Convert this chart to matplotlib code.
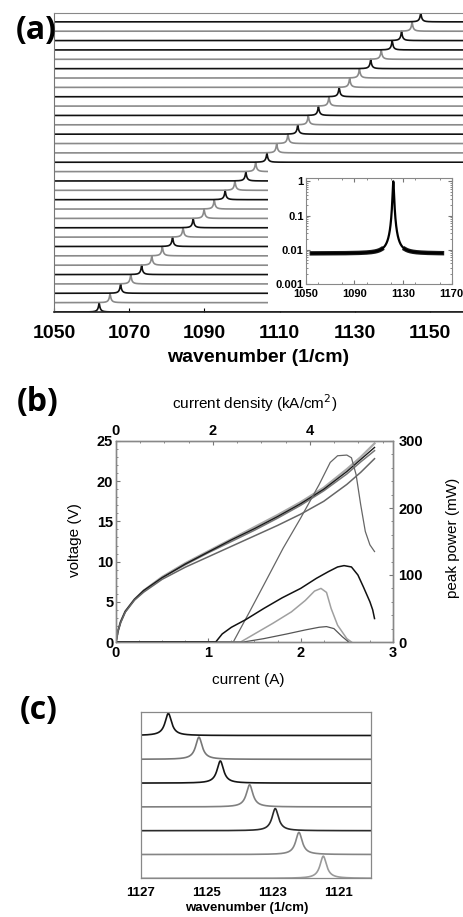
import numpy as np
import matplotlib
matplotlib.use("Agg")
import matplotlib.pyplot as plt
from matplotlib.ticker import MultipleLocator, NullFormatter, LogLocator

plt.rcParams['font.family'] = ['Liberation Sans', 'DejaVu Sans']

# ---------------- data ----------------
# (a) peak positions of stacked spectra, bottom -> top (1/cm)
peaks_a = [1062.0, 1064.9, 1067.7, 1070.4, 1073.3, 1076.0, 1078.8, 1081.5,
           1084.3, 1087.0, 1089.9, 1092.6, 1095.5, 1098.1, 1101.0, 1103.6,
           1106.6, 1109.2, 1112.2, 1114.8, 1117.6, 1120.3, 1123.1, 1125.8,
           1128.6, 1131.2, 1134.2, 1137.0, 1139.9, 1142.4, 1145.2, 1147.5]
shade_a = ['k', 'g', 'k', 'g', 'k', 'g', 'g', 'k', 'g', 'k', 'g', 'g', 'k', 'g', 'k', 'g',
           'k', 'g', 'g', 'k', 'g', 'k', 'g', 'k', 'g', 'g', 'k', 'g', 'k', 'k', 'g', 'k']
xticks_a = [1050, 1070, 1090, 1110, 1130, 1150]
floor_a = 0.008   # relative noise floor of each (log-scaled) spectrum

# (a) inset single spectrum
inset_peak = 1122.0
inset_floor = 0.0078
inset_range = [1055, 1162]
inset_xticks = [1050, 1090, 1130, 1170]
inset_yticks = [0.001, 0.01, 0.1, 1]
inset_ylabels = ['0.001', '0.01', '0.1', '1']

# (b) voltage vs current
I_v = [0, 0.02, 0.05, 0.1, 0.2, 0.3, 0.5, 0.75, 1.0, 1.25, 1.5, 1.75, 2.0, 2.25, 2.5, 2.65, 2.8]
V_1 = [0, 1.3, 2.5, 3.8, 5.3, 6.4, 8.0, 9.7, 11.2, 12.7, 14.1, 15.6, 17.2, 19.0, 21.2, 22.7, 24.2]
V_2 = [0, 1.3, 2.5, 3.8, 5.3, 6.4, 8.1, 9.8, 11.3, 12.8, 14.3, 15.8, 17.4, 19.2, 21.5, 23.0, 24.7]
V_3 = [0, 1.3, 2.5, 3.8, 5.3, 6.4, 8.0, 9.6, 11.1, 12.5, 13.9, 15.4, 17.0, 18.8, 20.9, 22.4, 23.8]
V_4 = [0, 1.3, 2.4, 3.7, 5.2, 6.2, 7.8, 9.3, 10.6, 11.9, 13.2, 14.5, 15.9, 17.5, 19.6, 21.1, 22.8]

# (b) peak power vs current
I_p1 = [0, 1.27, 1.45, 1.6, 1.81, 2.0, 2.2, 2.32, 2.4, 2.5, 2.55, 2.6, 2.65, 2.7, 2.75, 2.8]
P_1 = [0, 0, 46, 85, 140, 185, 235, 268, 278, 279, 275, 250, 205, 165, 145, 135]
I_p2 = [0, 1.08, 1.15, 1.25, 1.4, 1.6, 1.8, 2.0, 2.17, 2.3, 2.4, 2.47, 2.55, 2.62, 2.68, 2.75, 2.78, 2.8]
P_2 = [0, 0, 12, 22, 33, 50, 66, 80, 95, 105, 112, 114, 112, 100, 82, 60, 48, 35]
I_p3 = [0, 1.35, 1.5, 1.7, 1.9, 2.05, 2.15, 2.22, 2.28, 2.33, 2.4, 2.5, 2.55]
P_3 = [0, 0, 12, 28, 45, 62, 76, 80, 74, 50, 25, 5, 0]
I_p4 = [0, 1.38, 1.6, 1.85, 2.05, 2.2, 2.28, 2.36, 2.45, 2.52]
P_4 = [0, 0, 5, 12, 18, 22, 23, 20, 8, 0]
J_per_A = 1.905   # kA/cm^2 per A

# (c) peak positions top -> bottom (1/cm)
peaks_c = [1126.16, 1125.23, 1124.58, 1123.69, 1122.91, 1122.19, 1121.45]
colors_c = ['#151515', '#777777', '#151515', '#808080', '#2a2a2a', '#858585', '#9a9a9a']
xticks_c = [1127, 1125, 1123, 1121]

# ---------------- figure ----------------
W, H = 464, 917
fig = plt.figure(figsize=(W / 100, H / 100), dpi=100)


def fax(x0, y0, x1, y1):
    return [x0 / W, 1 - y1 / H, (x1 - x0) / W, (y1 - y0) / H]


def lor(x, x0, g):
    return g ** 2 / ((x - x0) ** 2 + g ** 2)


# ---- panel (a) ----
axa = fig.add_axes(fax(54, 12.5, 464, 312))
xa = np.linspace(1050, 1159, 6000)
lf = np.log10(floor_a)
for i, (p, s) in enumerate(zip(peaks_a, shade_a)):
    col = '#111111' if s == 'k' else '#8a8a8a'
    prof = (np.log10(floor_a + (1 - floor_a) * lor(xa, p, 0.07)) - lf) / (-lf)
    axa.plot(xa, i + 0.98 * prof, color=col, lw=1.2, solid_capstyle='butt')
axa.set_xlim(1050, 1159)
axa.set_ylim(0, len(peaks_a))
axa.set_yticks([])
axa.set_xticks(xticks_a)
axa.tick_params(axis='x', direction='in', length=3, width=0.8, pad=9, labelsize=14)
for lab in axa.get_xticklabels():
    lab.set_fontweight('bold')
axa.spines['left'].set_color('#777777')
axa.spines['top'].set_color('#888888')
axa.spines['left'].set_linewidth(0.8)
axa.spines['top'].set_linewidth(0.8)
axa.spines['bottom'].set_color('#222222')
axa.spines['bottom'].set_linewidth(1.2)
axa.spines['right'].set_visible(False)
fig.text(258 / W, 1 - 357 / H, 'wavenumber (1/cm)', ha='center', va='center',
         fontsize=14, fontweight='bold')
fig.text(36 / W, 1 - 30 / H, '(a)', ha='center', va='center', fontsize=23,
         fontweight='bold', family=['Open Sans', 'DejaVu Sans'])

# inset white background
bg = fig.add_axes(fax(268, 163, 464, 310.5))
bg.set_facecolor('white')
bg.set_xticks([]); bg.set_yticks([])
for sp in bg.spines.values():
    sp.set_visible(False)
bg.set_zorder(2)

axi = fig.add_axes(fax(305.7, 178, 451.7, 284))
axi.set_zorder(3)
xi = np.linspace(inset_range[0], inset_range[1], 3000)
yi = inset_floor + (1 - inset_floor) * lor(xi, inset_peak, 0.5)
band = np.where(yi < 0.0105, yi, np.nan)
axi.plot(xi, band, color='#1a1a1a', lw=3.2)
axi.plot(xi, yi, color='#000000', lw=1.6)
axi.set_yscale('log')
axi.set_ylim(0.001, 1.25)
axi.set_xlim(1050, 1170)
axi.set_xticks(inset_xticks)
axi.set_xticklabels([str(v) for v in inset_xticks])
axi.set_yticks(inset_yticks)
axi.set_yticklabels(inset_ylabels)
axi.yaxis.set_minor_locator(LogLocator(base=10, subs=np.arange(2, 10) * 1.0))
axi.yaxis.set_minor_formatter(NullFormatter())
axi.xaxis.set_minor_locator(MultipleLocator(20))
axi.tick_params(which='both', direction='in', top=True, right=True, labelsize=8,
                color='#777777')
axi.tick_params(axis='y', pad=1.5)
axi.tick_params(axis='x', pad=3.5)
axi.tick_params(which='major', length=3)
axi.tick_params(which='minor', length=1.5)
for lab in axi.get_xticklabels() + axi.get_yticklabels():
    lab.set_fontweight('bold')
for sp in axi.spines.values():
    sp.set_color('#888888')
    sp.set_linewidth(0.8)

# ---- panel (b) ----
axb = fig.add_axes(fax(116, 441, 393, 642))
axb.plot(I_v, V_2, color='#aaaaaa', lw=1.6)
axb.plot(I_v, V_3, color='#777777', lw=1.1)
axb.plot(I_v, V_1, color='#1a1a1a', lw=1.0)
axb.plot(I_v, V_4, color='#666666', lw=1.1)
axb.set_xlim(0, 3)
axb.set_ylim(0, 25)
axb.set_xticks([0, 1, 2, 3])
axb.set_yticks([0, 5, 10, 15, 20, 25])
axb.xaxis.set_minor_locator(MultipleLocator(0.25))
axb.yaxis.set_minor_locator(MultipleLocator(1))
axb.tick_params(which='both', direction='in', color='#777777', labelsize=10.5)
axb.tick_params(which='major', length=3, pad=2)
axb.tick_params(which='minor', length=1.5)
axb.tick_params(axis='x', pad=3)
for lab in axb.get_xticklabels() + axb.get_yticklabels():
    lab.set_fontweight('bold')
for sp in axb.spines.values():
    sp.set_color('#888888')
    sp.set_linewidth(0.9)

axp = axb.twinx()
axp.plot(I_p1, P_1, color='#666666', lw=0.9)
axp.plot(I_p3, P_3, color='#a0a0a0', lw=1.1)
axp.plot(I_p4, P_4, color='#555555', lw=0.9)
axp.plot(I_p2, P_2, color='#111111', lw=1.1)
axp.set_ylim(0, 300)
axp.set_yticks([0, 100, 200, 300])
axp.yaxis.set_minor_locator(MultipleLocator(20))
axp.tick_params(which='both', direction='in', color='#777777', labelsize=10.5)
axp.tick_params(which='major', length=3, pad=4)
axp.tick_params(which='minor', length=1.5)
for lab in axp.get_yticklabels():
    lab.set_fontweight('bold')
for sp in axp.spines.values():
    sp.set_color('#888888')
    sp.set_linewidth(0.9)

axt = axb.twiny()
axt.set_xlim(0, 3 * J_per_A)
axt.set_xticks([0, 2, 4])
axt.xaxis.set_minor_locator(MultipleLocator(0.5))
axt.tick_params(which='both', direction='in', color='#777777', labelsize=10.5, pad=2)
axt.tick_params(which='major', length=3)
axt.tick_params(which='minor', length=1.5)
for lab in axt.get_xticklabels():
    lab.set_fontweight('bold')
for sp in axt.spines.values():
    sp.set_color('#888888')
    sp.set_linewidth(0.9)

fig.text(255 / W, 1 - 403 / H, 'current density (kA/cm$^2$)', ha='center', va='center',
         fontsize=11)
fig.text(248 / W, 1 - 680 / H, 'current (A)', ha='center', va='center', fontsize=11)
fig.text(75 / W, 1 - 540 / H, 'voltage (V)', ha='center', va='center', fontsize=11,
         rotation=90)
fig.text(453 / W, 1 - 538 / H, 'peak power (mW)', ha='center', va='center', fontsize=11,
         rotation=90)
fig.text(38 / W, 1 - 402 / H, '(b)', ha='center', va='center', fontsize=23,
         fontweight='bold', family=['Open Sans', 'DejaVu Sans'])

# ---- panel (c) ----
axc = fig.add_axes(fax(140.7, 711.7, 371, 878.3))
xc = np.linspace(1127, 1120, 2000)
n = len(peaks_c)
for k, (p, c) in enumerate(zip(peaks_c, colors_c)):
    base = n - 1 - k
    axc.plot(xc, base + 0.93 * lor(xc, p, 0.12), color=c, lw=1.2)
axc.set_xlim(1127, 1120)
axc.set_ylim(0, n)
axc.set_yticks([])
axc.set_xticks(xticks_c)
axc.tick_params(axis='x', length=0, pad=6, labelsize=9.5)
for lab in axc.get_xticklabels():
    lab.set_fontweight('bold')
for sp in axc.spines.values():
    sp.set_color('#888888')
    sp.set_linewidth(0.9)
fig.text(247 / W, 1 - 908 / H, 'wavenumber (1/cm)', ha='center', va='center',
         fontsize=9.5, fontweight='bold')
fig.text(39 / W, 1 - 711 / H, '(c)', ha='center', va='center', fontsize=23,
         fontweight='bold', family=['Open Sans', 'DejaVu Sans'])

fig.savefig('out.png', dpi=100)
